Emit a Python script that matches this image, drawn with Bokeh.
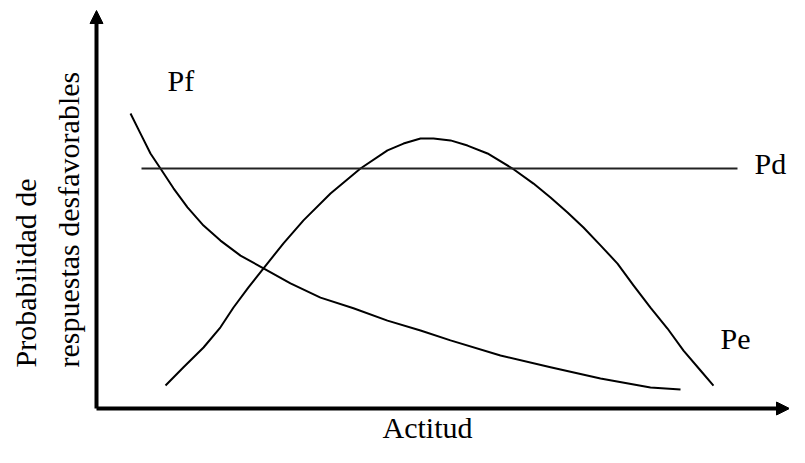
from bokeh.plotting import figure
from bokeh.models import Range1d, Arrow, NormalHead, Label
from bokeh.embed import file_html
from bokeh.resources import INLINE
import math

# --- data ---
pf_x = [0.486, 0.629, 0.771, 0.914, 1.10, 1.30, 1.529, 1.771, 2.057, 2.386, 2.771, 3.20, 3.671,
        4.157, 4.629, 5.057, 5.771, 6.486, 7.20, 7.914, 8.343]
pf_y = [0.745, 0.694, 0.644, 0.606, 0.556, 0.508, 0.462, 0.424, 0.386, 0.354, 0.316, 0.280, 0.253,
        0.222, 0.197, 0.172, 0.134, 0.104, 0.076, 0.053, 0.048]

pe_x = [0.986, 1.243, 1.529, 1.771, 1.957, 2.171, 2.386, 2.671, 2.957, 3.343, 3.771, 4.157, 4.386,
        4.629, 4.814, 5.057, 5.30, 5.586, 5.943, 6.243, 6.486, 6.729, 6.957, 7.20, 7.443, 7.671,
        7.914, 8.157, 8.386, 8.629, 8.814]
pe_y = [0.058, 0.104, 0.154, 0.205, 0.255, 0.306, 0.354, 0.417, 0.475, 0.543, 0.606, 0.652, 0.669,
        0.682, 0.682, 0.677, 0.664, 0.644, 0.606, 0.568, 0.533, 0.495, 0.457, 0.412, 0.366, 0.311,
        0.255, 0.202, 0.146, 0.096, 0.058]

pd_x = [0.643, 9.157]
pd_y = [0.606, 0.606]

curve_labels = ["Pf", "Pd", "Pe"]
x_label = "Actitud"
y_label_lines = ["Probabilidad de", "respuestas desfavorables"]

FONT = "Liberation Serif"
FS = "30px"

p = figure(width=789, height=447, output_backend="svg", toolbar_location=None,
           x_range=Range1d(-96 / 70, 693 / 70), y_range=Range1d(-39 / 396, 408 / 396),
           min_border=0, min_border_left=0, min_border_right=0,
           min_border_top=0, min_border_bottom=0)
p.axis.visible = False
p.grid.visible = False
p.outline_line_color = None
p.background_fill_color = "white"
p.border_fill_color = "white"

# curves
p.line(pf_x, pf_y, line_color="black", line_width=2, line_join="round")
p.line(pe_x, pe_y, line_color="black", line_width=2, line_join="round")
p.line(pd_x, pd_y, line_color="#222222", line_width=2.2)

# axes with arrow heads
p.add_layout(Arrow(x_start=0, y_start=0, x_end=0, y_end=1.005,
                   line_width=4, line_color="black",
                   end=NormalHead(size=13, fill_color="black", line_color="black")))
p.add_layout(Arrow(x_start=0, y_start=0, x_end=693 / 70, y_end=0,
                   line_width=4, line_color="black",
                   end=NormalHead(size=13, fill_color="black", line_color="black")))

# curve labels
label_pos = [(1.014, 0.828), (9.40, 0.619), (8.914, 0.177)]
for txt, (lx, ly) in zip(curve_labels, label_pos):
    p.add_layout(Label(x=lx, y=ly, text=txt, text_font=FONT, text_font_size=FS,
                       text_color="black", text_baseline="alphabetic", text_align="left"))

# axis titles
p.add_layout(Label(x=4.729, y=-0.048, text=x_label, text_font=FONT, text_font_size=FS,
                   text_color="black", text_baseline="alphabetic", text_align="center"))
for txt, lx in zip(y_label_lines, [-1.014, -0.40]):
    p.add_layout(Label(x=lx, y=0.1035, text=txt, text_font=FONT, text_font_size=FS,
                       text_color="black", text_baseline="alphabetic", text_align="left",
                       angle=math.pi / 2))

open("out.html", "w").write(file_html(p, INLINE))
